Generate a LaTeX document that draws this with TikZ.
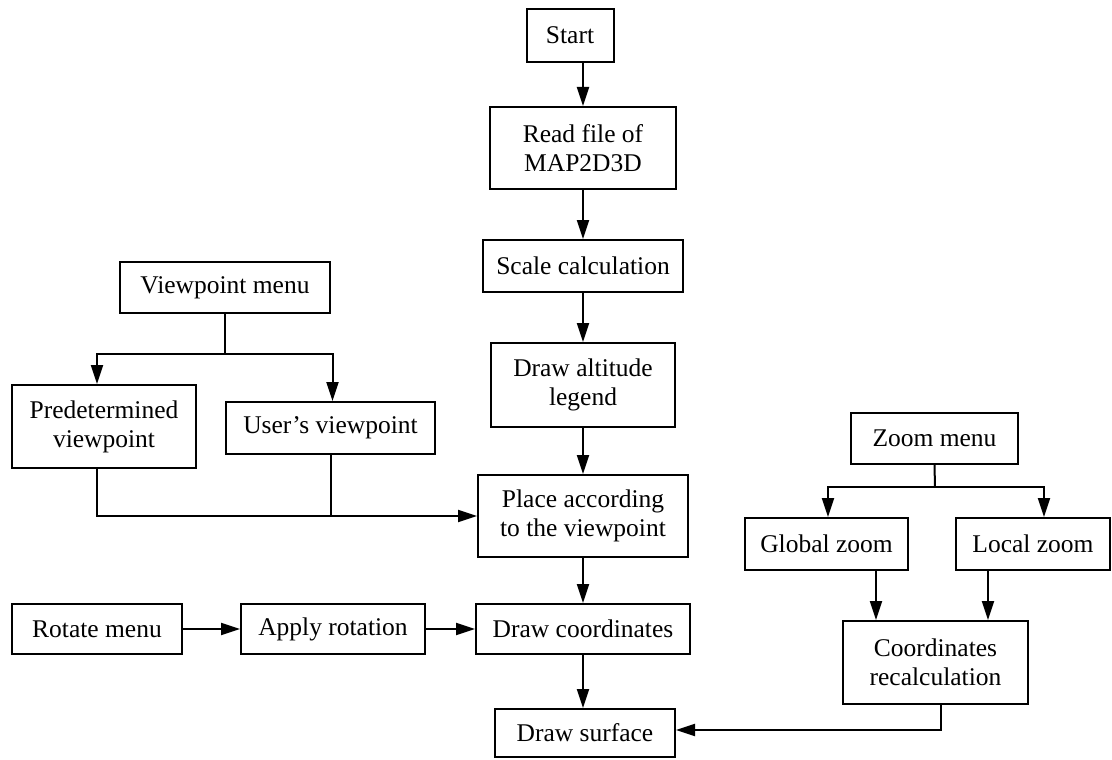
\documentclass[tikz,border=0pt]{standalone}
\usepackage{fontspec}
\setmainfont{Liberation Serif}
\usetikzlibrary{arrows.meta}
\begin{document}
\begin{tikzpicture}[x=1pt,y=-1pt,
  box/.style={draw, line width=2pt, inner sep=0pt, align=center,
    font=\fontsize{25.5}{29}\selectfont},
  conn/.style={line width=2pt},
  arr/.style={line width=2pt, -{Triangle[length=19pt,width=12pt]}}]
\useasboundingbox (0,0) rectangle (1112,760);
% main column
\node[box, minimum width=87pt, minimum height=53pt] (start) at (570,35.5) {Start};
\node[box, minimum width=186pt, minimum height=82pt] (read) at (583,148) {Read file of\\MAP2D3D};
\node[box, minimum width=200pt, minimum height=52pt] (scale) at (583,266) {Scale calculation};
\node[box, minimum width=184pt, minimum height=84pt] (alt) at (583,385) {Draw altitude\\legend};
\node[box, minimum width=210pt, minimum height=82pt] (place) at (583,516) {Place according\\to the viewpoint};
\node[box, minimum width=214pt, minimum height=50pt] (dcoord) at (583,629) {Draw coordinates};
\node[box, minimum width=180pt, minimum height=48pt] (surf) at (585,733) {Draw surface};
% viewpoint branch
\node[box, minimum width=210pt, minimum height=51pt] (vmenu) at (225,287.5) {Viewpoint menu};
\node[box, minimum width=184pt, minimum height=83pt] (pre) at (104,426.5) {Predetermined\\viewpoint};
\node[box, minimum width=209pt, minimum height=52pt] (user) at (330.5,428) {User’s viewpoint};
% rotate branch
\node[box, minimum width=170pt, minimum height=50pt] (rot) at (97,629) {Rotate menu};
\node[box, minimum width=184pt, minimum height=50pt] (apply) at (333,629) {Apply rotation};
% zoom branch
\node[box, minimum width=167pt, minimum height=51pt] (zmenu) at (934.5,438.5) {Zoom menu};
\node[box, minimum width=163pt, minimum height=52pt] (glob) at (826.5,544) {Global zoom};
\node[box, minimum width=154pt, minimum height=52pt] (loc) at (1033,544) {Local zoom};
\node[box, minimum width=185pt, minimum height=83pt] (recalc) at (935.5,662.5) {Coordinates\\recalculation};
% main column connectors
\draw[arr] (start.south -| read.north) -- (read.north);
\draw[arr] (read) -- (scale);
\draw[arr] (scale) -- (alt);
\draw[arr] (alt) -- (place);
\draw[arr] (place) -- (dcoord);
\draw[arr] (dcoord.south) -- (dcoord.south |- surf.north);
% viewpoint connectors
\coordinate (vj) at (225,354);
\path ([xshift=-7pt]pre.north) coordinate (pn);
\path ([xshift=-7pt]pre.south) coordinate (ps);
\path ([xshift=2pt]user.north) coordinate (un);
\draw[conn] (vmenu.south) -- (vj);
\draw[arr] (vj) -| (pn);
\draw[arr] (vj) -| (un);
\draw[arr] (ps) |- (place.west);
\draw[conn] (user.south) -- (user.south |- place.west);
% rotate connectors
\draw[arr] (rot) -- (apply);
\draw[arr] (apply) -- (dcoord);
% zoom connectors
\coordinate (zj) at (935,487);
\path ([xshift=1.5pt]glob.north) coordinate (gn);
\path ([xshift=11pt]loc.north) coordinate (ln);
\path ([xshift=-59.5pt]recalc.north) coordinate (ga);
\path ([xshift=52.5pt]recalc.north) coordinate (la);
\path ([xshift=5.5pt]recalc.south) coordinate (rs);
\draw[conn] (zmenu.south) -- (zj);
\draw[arr] (zj) -| (gn);
\draw[arr] (zj) -| (ln);
\draw[arr] (ga |- glob.south) -- (ga);
\draw[arr] (la |- loc.south) -- (la);
\draw[arr] (rs) |- ([yshift=3pt]surf.east);
\end{tikzpicture}
\end{document}
